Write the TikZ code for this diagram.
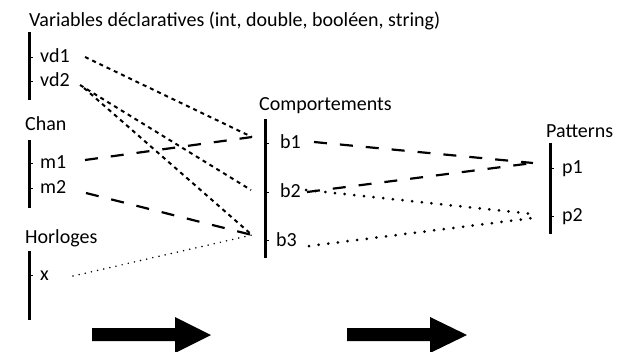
\documentclass[tikz,border=0pt]{standalone}
\usepackage{fontspec}
\setmainfont{Carlito}
\begin{document}
\begin{tikzpicture}[x=1pt,y=-1pt,
  lbl/.style={anchor=base west,inner sep=0pt,font=\fontsize{20}{24}\selectfont},
  bar/.style={line width=3pt},
  tick/.style={line width=1pt},
  shortdash/.style={line width=2pt,dash pattern=on 4pt off 4pt},
  longdash/.style={line width=2.2pt,dash pattern=on 13pt off 13pt},
  finedot/.style={line width=1.7pt,line cap=round,dash pattern=on 0pt off 6.3pt},
  bigdot/.style={line width=3pt,line cap=round,dash pattern=on 0pt off 9.7pt},
  bigarrow/.style={fill=black}]
\useasboundingbox (0,0) rectangle (618,351);
% titles
\node[lbl] (tvd) at (29,26) {Variables déclaratives (int, double, booléen, string)};
\node[lbl] (tchan) at (25,130) {Chan};
\node[lbl] (thor) at (25,243) {Horloges};
\node[lbl] (tcomp) at (259,110) {Comportements};
\node[lbl] (tpat) at (546,137) {Patterns};
% bars
\draw[bar] (29,32) -- (29,100);
\draw[bar] (29,140) -- (29,208);
\draw[bar] (29,251) -- (29,320);
\draw[bar] (265,119) -- (265,258);
\draw[bar] (550,143) -- (550,234);
% ticks
\foreach \x/\y in {29/57,29/81,29/163,29/188,29/275,265/143,265/192,265/240,550/168,550/216}
  \draw[tick] (\x,\y) -- ++(4,0);
% labels
\node[lbl] (vd1) at (40,62) {vd1};
\node[lbl] (vd2) at (40,86) {vd2};
\node[lbl] (m1) at (40,168) {m1};
\node[lbl] (m2) at (40,193) {m2};
\node[lbl] (x) at (40,280) {x};
\node[lbl] (b1) at (280,148) {b1};
\node[lbl] (b2) at (280,197) {b2};
\node[lbl] (b3) at (276,246) {b3};
\node[lbl] (p1) at (562,173) {p1};
\node[lbl] (p2) at (562,221) {p2};
% connector ends
\coordinate (vd1o) at (85,57);
\coordinate (vd2o) at (80,85);
\coordinate (vd2p) at (84,88);
\coordinate (m1o) at (85,160);
\coordinate (m2o) at (86,193);
\coordinate (xo) at (73,276);
\coordinate (b1i) at (252,137);
\coordinate (b2i) at (251,190);
\coordinate (b3i) at (252,235);
\coordinate (b1o) at (314,142);
\coordinate (b2o) at (307,192);
\coordinate (b2d) at (306,190);
\coordinate (b3o) at (309,246);
\coordinate (p1i) at (533,163);
\coordinate (p2i) at (533,214);
\coordinate (p2j) at (533,218);
% connectors
\draw[shortdash] (vd1o) -- (b1i);
\draw[shortdash] (vd2o) -- (b2i);
\draw[shortdash] (vd2p) -- (b3i);
\draw[longdash] (m1o) -- (b1i);
\draw[longdash] (m2o) -- (b3i);
\draw[finedot] (xo) -- (b3i);
\draw[longdash] (b1o) -- (p1i);
\draw[longdash] (b2o) -- (p1i);
\draw[bigdot] (b2d) -- (p2i);
\draw[bigdot] (b3o) -- (p2j);
% big arrows
\fill[bigarrow] (92,328) -- (175,328) -- (175,317) -- (211,335) -- (175,353) -- (175,341) -- (92,341) -- cycle;
\fill[bigarrow] (347,328) -- (430,328) -- (430,317) -- (467,335) -- (430,353) -- (430,341) -- (347,341) -- cycle;
\end{tikzpicture}
\end{document}
